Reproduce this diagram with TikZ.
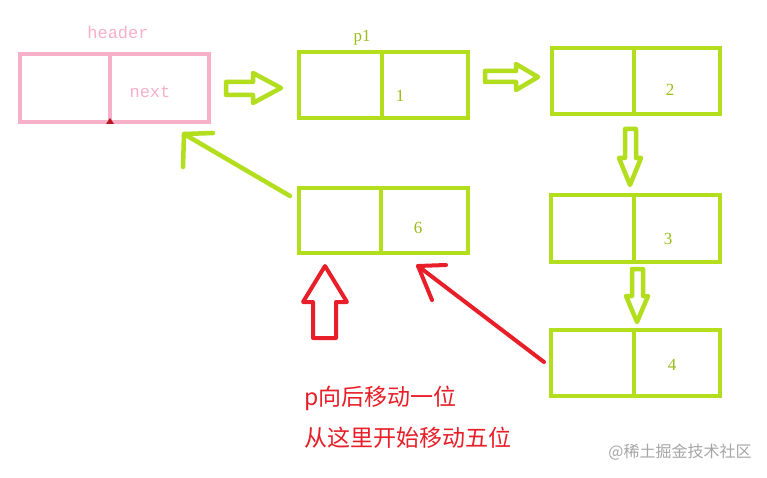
\documentclass[tikz,border=0pt]{standalone}
\usepackage{fontspec}
\setmainfont{Liberation Serif}
\newfontfamily\monof{Liberation Mono}
\newfontfamily\cjk{Noto Sans CJK SC}
\definecolor{lg}{RGB}{178,222,30}
\definecolor{pk}{RGB}{248,175,200}
\definecolor{rd}{RGB}{232,30,40}
\tikzset{gbox/.style={draw=lg,line width=4pt},
pbox/.style={draw=pk,line width=4pt},
garr/.style={draw=lg,line width=4.5pt,line join=round,line cap=round},
rarr/.style={draw=rd,line width=4pt,line join=round,line cap=round},
lbl/.style={text=lg!85!black,font=\fontsize{17}{20}\selectfont}}
\begin{document}
\begin{tikzpicture}[x=1pt,y=-1pt]
\useasboundingbox (0,0) rectangle (767,478);
\fill[white] (0,0) rectangle (767,478);
% header
\draw[pbox] (20,54) rectangle (209,122); \draw[pbox] (110,54) -- (110,122);
\node[text=pk,font=\monof\fontsize{17}{20}\selectfont] (h) at (118,32) {header};
\node[text=pk,font=\monof\fontsize{17}{20}\selectfont] (nx) at (150,92) {next};
\fill[rd!80!black] (106,124) -- (110,118) -- (114,124) -- cycle;
% boxes
\draw[gbox] (299,52) rectangle (468,118); \draw[gbox] (382,52) -- (382,118);
\node[lbl] (p1) at (362,38) {p1};
\node[lbl] (n1) at (400,96) {1};
\draw[gbox] (552,48) rectangle (720,114); \draw[gbox] (634,48) -- (634,114);
\node[lbl] (n2) at (670,90) {2};
\draw[gbox] (551,195) rectangle (720,262); \draw[gbox] (634,195) -- (634,262);
\node[lbl] (n3) at (668,239) {3};
\draw[gbox] (551,330) rectangle (720,396); \draw[gbox] (634,330) -- (634,396);
\node[lbl] (n4) at (672,365) {4};
\draw[gbox] (299,188) rectangle (468,253); \draw[gbox] (381,188) -- (381,253);
\node[lbl] (n6) at (418,228) {6};
% hollow green arrows
\draw[garr] (226,82) -- (253,82) -- (253,73) -- (281,88) -- (253,103) -- (253,95) -- (226,95) -- cycle;
\draw[garr] (485,71) -- (516,71) -- (516,64) -- (538,77) -- (516,90) -- (516,82) -- (485,82) -- cycle;
\draw[garr] (625,129) -- (636,129) -- (636,158) -- (641,158) -- (630,185) -- (619,158) -- (625,158) -- cycle;
\draw[garr] (632,269) -- (643,269) -- (643,296) -- (648,296) -- (637,322) -- (626,296) -- (632,296) -- cycle;
% green line arrow
\coordinate (gt) at (184,134);
\draw[garr] (290,196) -- (gt); \draw[garr] (213,133) -- (gt) -- (183,167);
% red hollow up arrow
\draw[rarr] (313,338) -- (336,338) -- (336,302) -- (347,302) -- (325,266) -- (303,302) -- (313,302) -- cycle;
% red line arrow
\coordinate (rt) at (418,266);
\draw[rarr] (544,362) -- (rt); \draw[rarr] (446,265) -- (rt) -- (432,300);
\node[text=rd,font=\cjk\fontsize{23}{26}\selectfont,anchor=west] (t1) at (301,398) {p向后移动一位};
\node[text=rd,font=\cjk\fontsize{23}{26}\selectfont,anchor=west] (t2) at (301,438) {从这里开始移动五位};
\node[text=gray!70,font=\cjk\fontsize{16}{18}\selectfont] (wm) at (680,452) {@稀土掘金技术社区};
\end{tikzpicture}
\end{document}
